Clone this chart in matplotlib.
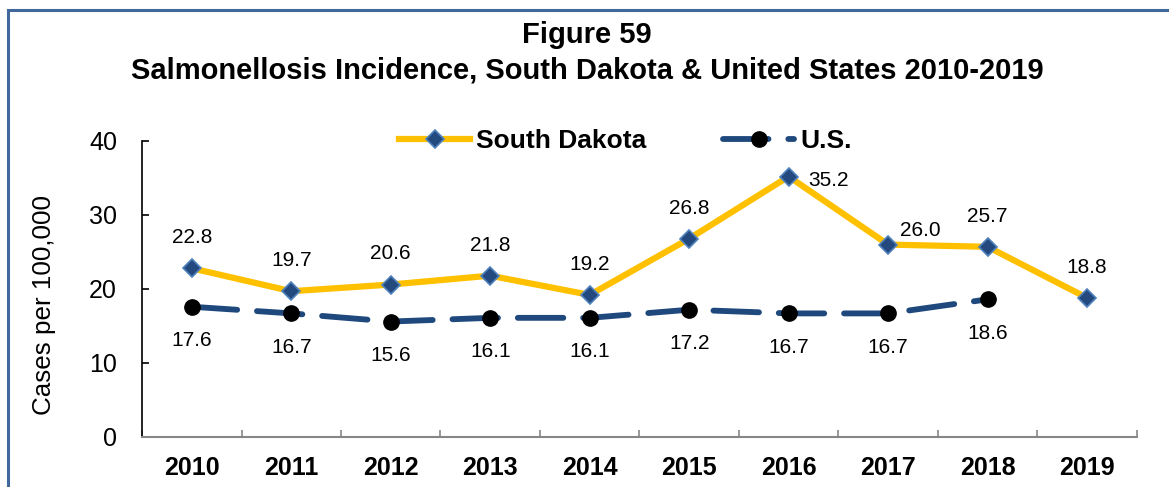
import matplotlib.pyplot as plt
from matplotlib.patches import Rectangle

plt.rcParams["font.family"] = ["Liberation Sans", "DejaVu Sans"]

YEARS = ["2010", "2011", "2012", "2013", "2014", "2015", "2016", "2017", "2018", "2019"]
SD_RATE = [22.8, 19.7, 20.6, 21.8, 19.2, 26.8, 35.2, 26.0, 25.7, 18.8]
US_RATE = [17.6, 16.7, 15.6, 16.1, 16.1, 17.2, 16.7, 16.7, 18.6]

SD_LINE = "#FFC000"
SD_MARK = "#24497E"
SD_EDGE = "#4F81BD"
US_LINE = "#1F497D"

# label offsets (points) for the South Dakota series; most sit above the marker
SD_OFFSETS = [(0, 22)] * 10
SD_OFFSETS[6] = (29, -3)
SD_OFFSETS[7] = (23, 10)


def main():
    fig = plt.figure(figsize=(11.69, 4.87), dpi=100)
    ax = fig.add_axes([0.1215, 0.1027, 0.851, 0.6078])

    x_sd = list(range(len(SD_RATE)))
    x_us = list(range(len(US_RATE)))

    ax.plot(x_sd, SD_RATE, color=SD_LINE, lw=4.5, marker="D", ms=9,
            mfc=SD_MARK, mec=SD_EDGE, mew=1.2, label="South Dakota", zorder=3)
    us_line, = ax.plot(x_us, US_RATE, color=US_LINE, lw=4.2, marker="o", ms=11,
                       mfc="black", mec="black", label="U.S.", zorder=4)
    us_line.set_dashes([7.8, 3.4])
    us_line.set_dash_capstyle("round")

    for i, v in enumerate(SD_RATE):
        ax.annotate(f"{v:.1f}", (x_sd[i], v), xytext=SD_OFFSETS[i],
                    textcoords="offset points", ha="center", va="center",
                    fontsize=15)
    for i, v in enumerate(US_RATE):
        ax.annotate(f"{v:.1f}", (x_us[i], v), xytext=(0, -24.5),
                    textcoords="offset points", ha="center", va="center",
                    fontsize=15)

    ax.set_xlim(-0.5, len(YEARS) - 0.5)
    ax.set_ylim(0, 40)
    ax.set_yticks([0, 10, 20, 30, 40])
    ax.tick_params(axis="y", direction="in", length=5, width=1.2,
                   labelsize=18, pad=18)
    ax.set_xticks(range(len(YEARS)))
    ax.set_xticklabels(YEARS, fontsize=18, fontweight="bold")
    ax.set_xticks([i - 0.5 for i in range(len(YEARS) + 1)], minor=True)
    ax.tick_params(axis="x", which="major", length=0, pad=14)
    ax.tick_params(axis="x", which="minor", direction="in", length=5,
                   width=1.2, color="#868686")

    for side in ("top", "right"):
        ax.spines[side].set_visible(False)
    ax.spines["left"].set_linewidth(1.2)
    ax.spines["bottom"].set_color("#868686")
    ax.spines["bottom"].set_linewidth(1.5)
    fig.text(0.0376, 0.374, "Cases per 100,000", rotation=90,
             ha="center", va="center", fontsize=18.7)

    ax.legend(loc="center", bbox_to_anchor=(0.486, 1.0), ncol=2,
              frameon=False, handlelength=2.7, columnspacing=2.9,
              handletextpad=0.23,
              prop={"size": 19, "weight": "bold"})

    fig.text(0.502, 0.928, "Figure 59", ha="center", va="center",
             fontsize=21, fontweight="bold")
    fig.text(0.502, 0.856,
             "Salmonellosis Incidence, South Dakota & United States 2010-2019",
             ha="center", va="center", fontsize=21, fontweight="bold")

    # outer frame running off the right and bottom edges
    fig.patches.append(Rectangle((8 / 1169, -0.2), 1.2, 1.2 - 10 / 487,
                                 transform=fig.transFigure, fill=False,
                                 edgecolor="#41689C", lw=2.2))

    fig.savefig("out.png", dpi=100)
    plt.close(fig)


if __name__ == "__main__":
    main()
